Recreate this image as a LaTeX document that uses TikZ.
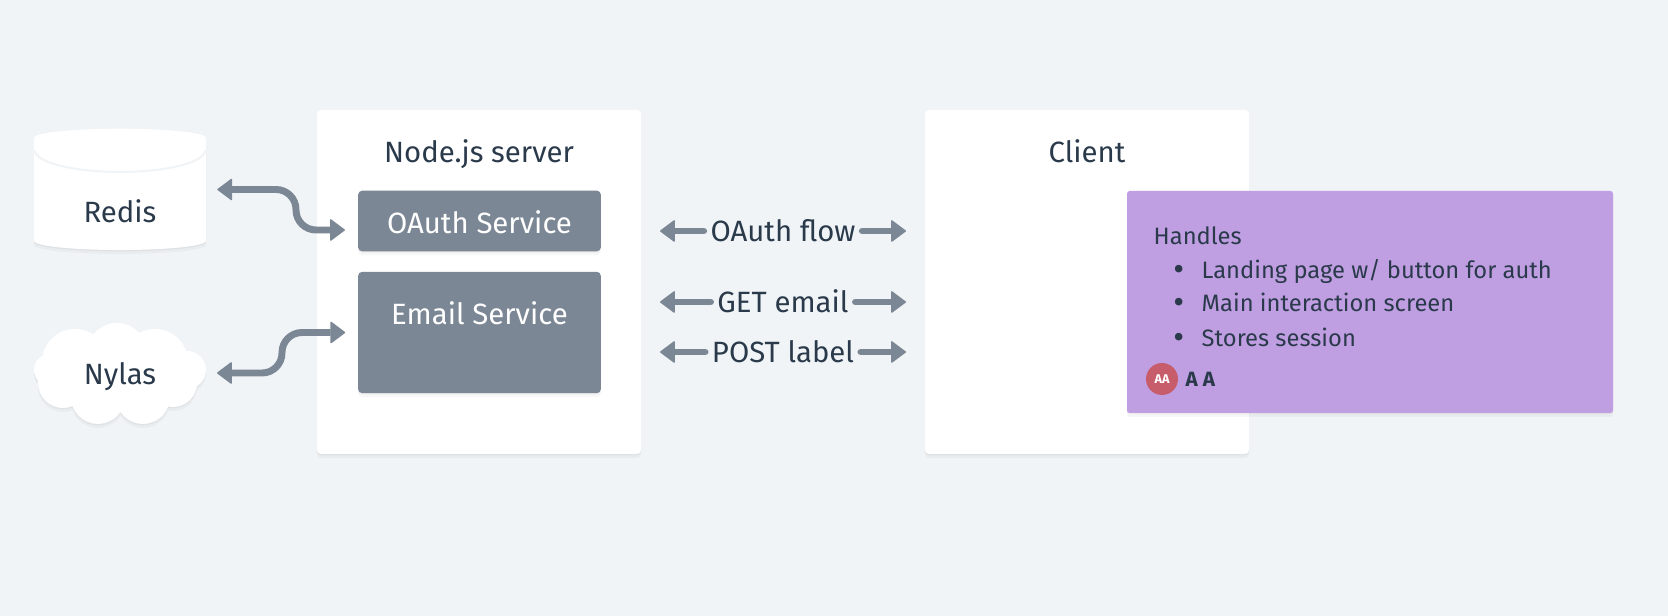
\documentclass[tikz,border=0pt]{standalone}
\usepackage{fontspec}
\setmainfont{Fira Sans}
\usetikzlibrary{arrows.meta,shadows,shapes.geometric}
\definecolor{pagebg}{HTML}{F0F4F7}
\definecolor{inkdark}{HTML}{2A3A4B}
\definecolor{slatebox}{HTML}{7C8795}
\definecolor{notepurple}{HTML}{BF9FE2}
\definecolor{avatarred}{HTML}{C75C6A}
\tikzset{
    flowtip/.tip={Triangle[length=11.5pt,width=17pt,line width=1pt,round]},
    softshadow/.style={
        drop shadow={shadow xshift=0pt, shadow yshift=-1pt, opacity=0.04, fill=black},
        drop shadow={shadow xshift=0pt, shadow yshift=-3pt, opacity=0.03, fill=black}},
    panel/.style={fill=white, rounded corners=3pt, minimum width=243pt, minimum height=258pt, softshadow},
    service/.style={fill=slatebox, rounded corners=3pt, minimum width=182pt, softshadow},
    flow/.style={draw=slatebox, line width=5.2pt, flowtip-flowtip},
    halfflow/.style={draw=slatebox, line width=5.2pt, line cap=round, -flowtip},
    heading/.style={text=inkdark, font=\fontsize{22}{26}\selectfont, anchor=base},
    whitehead/.style={text=white, font=\fontsize{22}{26}\selectfont, anchor=base},
    notetext/.style={text=inkdark, font=\fontsize{17.8}{22}\selectfont, anchor=base west},
    notebullet/.style={text=inkdark, font=\fontsize{25}{25}\selectfont, anchor=base west, inner sep=0pt},
}
\begin{document}
\begin{tikzpicture}[x=0.75pt, y=-0.75pt]
    % Background
    \fill [pagebg] (0,0) rectangle (1668,616);
    \useasboundingbox (0,0) rectangle (1668,616);

    % Panels
    \node [panel] (server) at (479,282) {};
    \node [panel] (client) at (1087,282) {};
    \node [heading] (servertitle) at (479,163) {Node.js server};
    \node [heading] (clienttitle) at (1087,163) {Client};

    % Services
    \node [service, minimum height=45.5pt] (oauth) at (479.5,221) {};
    \node [whitehead] (oauthtitle) at (479.5,234) {OAuth Service};
    \node [service, minimum height=91pt] (email) at (479.5,332.5) {};
    \node [whitehead] (emailtitle) at (479.5,325) {Email Service};

    % Redis
    \node [cylinder, shape border rotate=90, aspect=2.05, minimum width=129pt, minimum height=91pt, fill=white, softshadow] (redis) at (120,195.5) {};
    \draw [pagebg, line width=1.5pt] ([shift={(-85,22)}]redis.north) arc [start angle=180, end angle=0, x radius=85, y radius=21.5];
    \node [heading] (redistitle) at (120,223) {Redis};

    % Nylas
    \fill [white, softshadow] (50,370) circle [radius=16] (75,362) circle [radius=33] (117,353) circle [radius=30] (155,362) circle [radius=33] (187,370) circle [radius=19] (173,383) circle [radius=24] (143,397) circle [radius=27] (98,397) circle [radius=27] (63,383) circle [radius=25] (120,375) circle [radius=35];
    \node [heading] (nylas) at (120,385) {Nylas};

    % Connectors on the left
    \coordinate (redisend) at ([shift={(11,-6)}]redis.east);
    \coordinate (oauthend) at ([shift={(-13,9)}]oauth.west);
    \coordinate (nylasend) at (217,373);
    \coordinate (emailend) at ([xshift=-9.5pt]email.west);
    \coordinate (redisbend) at (296,210);
    \coordinate (nylasbend) at (282,352);
    \draw [flow, rounded corners=15pt] (redisend) -- (redisbend |- redisend) -- (redisbend |- oauthend) -- (oauthend);
    \draw [flow, rounded corners=15pt] (nylasend) -- (nylasbend |- nylasend) -- (nylasbend |- emailend) -- (emailend);

    % Calls between server and client
    \node [heading, inner sep=5pt] (oauthflow) at (783,242) {OAuth flow};
    \node [heading, inner sep=5pt] (getemail) at (783,313) {GET email};
    \node [heading, inner sep=5pt] (postlabel) at (783,363) {POST label};
    \coordinate (oauthleft) at (660,231);
    \coordinate (oauthright) at (906,231);
    \coordinate (getleft) at (660,302);
    \coordinate (getright) at (906,302);
    \coordinate (postleft) at (660,352);
    \coordinate (postright) at (906,352);
    \draw [halfflow] (oauthflow.west |- oauthleft) -- (oauthleft);
    \draw [halfflow] (oauthflow.east |- oauthright) -- (oauthright);
    \draw [halfflow] (getemail.west |- getleft) -- (getleft);
    \draw [halfflow] (getemail.east |- getright) -- (getright);
    \draw [halfflow] (postlabel.west |- postleft) -- (postleft);
    \draw [halfflow] (postlabel.east |- postright) -- (postright);

    % Sticky note
    \node [fill=notepurple, rounded corners=2pt, minimum width=364.5pt, minimum height=166.5pt, softshadow] (note) at (1370,302) {};
    \node [notetext] (handles) at (1149,245) {Handles};
    \node [notebullet] (bulleta) at (1173,281) {\textbullet};
    \node [notetext] (itema) at (1197,279) {Landing page w/ button for auth};
    \node [notebullet] (bulletb) at (1173,314) {\textbullet};
    \node [notetext] (itemb) at (1197,312) {Main interaction screen};
    \node [notebullet] (bulletc) at (1173,349) {\textbullet};
    \node [notetext] (itemc) at (1197,347) {Stores session};
    \node [circle, fill=avatarred, minimum size=24pt, inner sep=0pt, text=white, font=\bfseries\fontsize{9.5}{11}\selectfont] (avatar) at (1162,379) {AA};
    \node [notetext, font=\fontsize{15.5}{19}\selectfont\bfseries] (owner) at (1181,387) {A A};
\end{tikzpicture}
\end{document}
